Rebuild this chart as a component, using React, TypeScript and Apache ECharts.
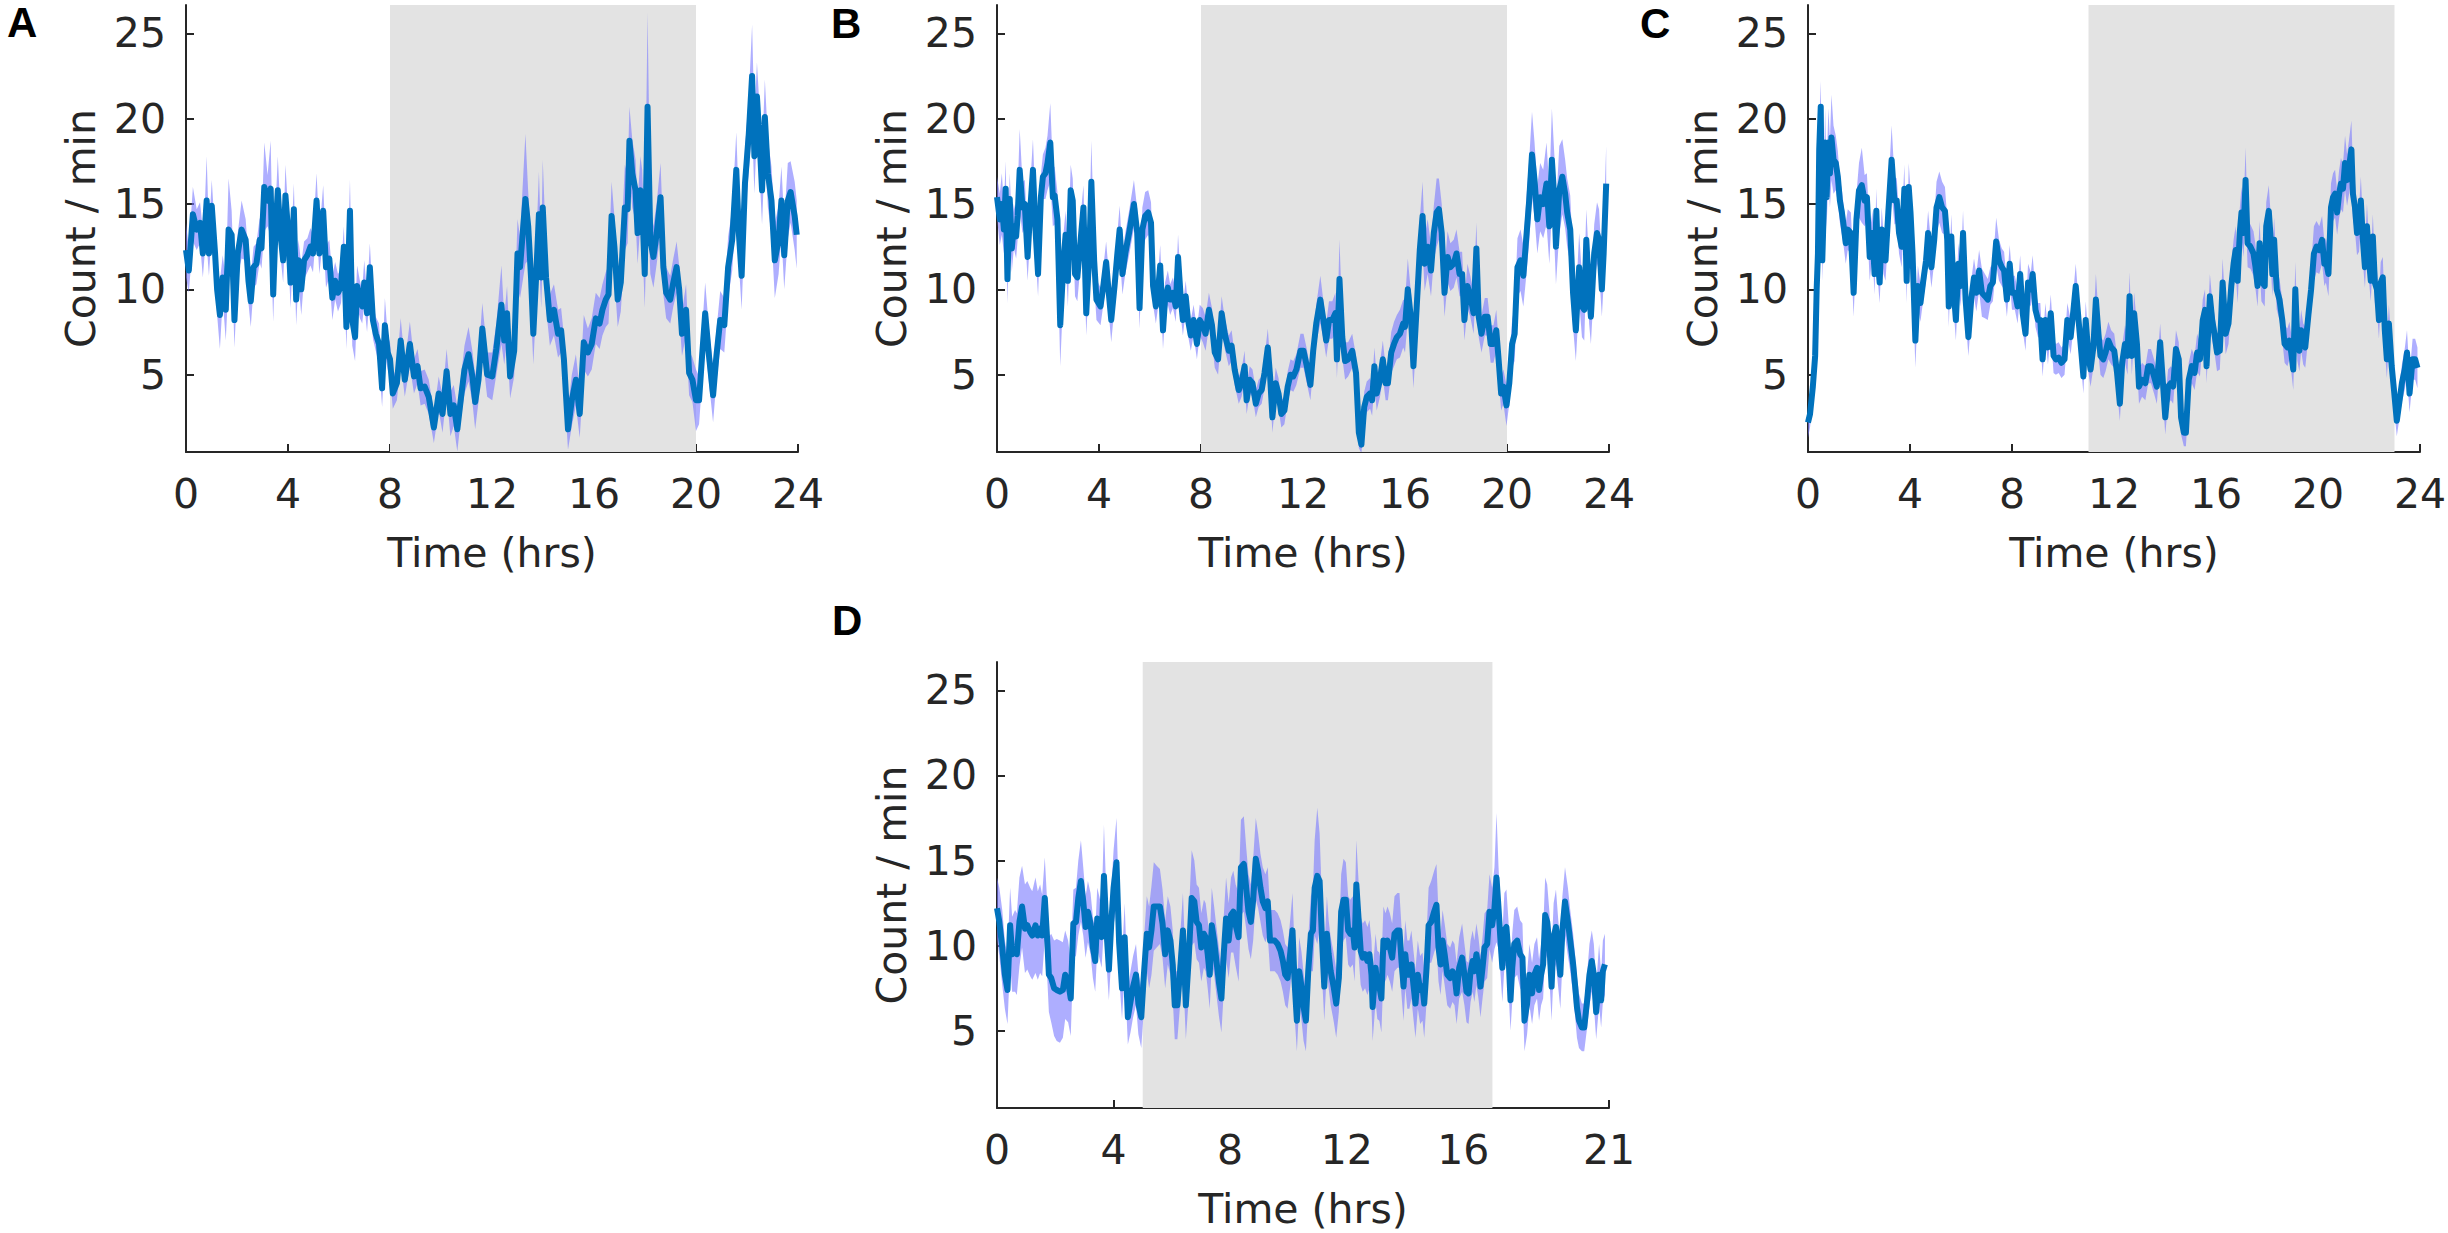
import React, { useEffect, useRef } from "react";
import * as echarts from "echarts";

// ---- axis ticks / ranges ----
const Y_TICKS = [5, 10, 15, 20, 25];
const X_TICKS_24 = [0, 4, 8, 12, 16, 20, 24];
const X_TICKS_21 = [0, 4, 8, 12, 16, 21];
const Y_MIN = 0.47;
const Y_MAX = 26.66;

// dark (grey) periods in hours
const DARK_A = [8, 20];
const DARK_B = [8, 20];
const DARK_C = [11, 23];
const DARK_D = [5, 17];

// ---- data: [time (hrs), mean count/min, SEM] ----
const panelA: number[][] = [
  [0.00,12.3,1.6],[0.11,11.1,1.3],[0.27,14.4,1.6],[0.42,13.5,1.2],[0.55,13.9,1.2],[0.66,12.1,1.4],[0.73,13.3,1.3],[0.81,15.2,2.6],[0.90,12.1,1.3],[1.01,14.9,1.5],
  [1.14,12.1,1.2],[1.22,10.0,1.5],[1.33,8.5,2.0],[1.44,10.7,1.3],[1.56,8.8,1.8],[1.67,13.5,3.0],[1.79,13.2,1.4],[1.90,8.2,1.6],[2.03,12.1,1.2],[2.18,13.5,1.7],
  [2.34,12.9,1.2],[2.45,10.5,1.3],[2.54,9.3,1.5],[2.65,11.3,1.2],[2.76,11.5,1.2],[2.89,12.9,1.3],[2.96,12.4,1.2],[3.07,16.0,2.6],[3.20,15.2,1.5],[3.32,15.9,2.8],
  [3.42,9.7,1.6],[3.51,13.5,1.2],[3.60,15.8,2.0],[3.70,13.3,1.3],[3.81,11.7,1.3],[3.90,15.5,1.8],[4.01,13.3,1.2],[4.10,10.4,1.5],[4.23,14.7,1.5],[4.32,9.4,1.5],
  [4.41,11.7,1.2],[4.52,10.0,1.5],[4.63,11.7,1.1],[4.76,12.0,1.0],[4.88,12.5,1.1],[4.98,12.1,1.1],[5.12,15.2,1.6],[5.23,12.1,1.2],[5.38,14.6,1.5],[5.49,11.3,1.2],
  [5.62,11.8,1.1],[5.74,9.5,1.3],[5.85,10.5,1.1],[5.96,9.8,1.1],[6.08,10.2,1.0],[6.19,12.5,1.2],[6.29,7.8,1.3],[6.43,14.6,1.8],[6.52,8.2,1.5],[6.63,7.2,1.4],
  [6.71,10.2,1.2],[6.82,9.4,1.1],[6.91,9.0,1.0],[6.99,10.4,1.3],[7.10,8.6,1.1],[7.21,11.3,1.4],[7.33,8.2,1.1],[7.44,7.4,1.0],[7.57,6.8,1.2],[7.69,4.2,1.1],
  [7.80,7.9,1.6],[7.91,6.3,1.0],[8.00,5.9,1.0],[8.11,3.9,0.9],[8.27,4.5,1.0],[8.42,7.0,1.3],[8.58,4.7,1.0],[8.78,6.8,1.3],[8.94,4.9,1.0],[9.08,5.5,1.0],
  [9.20,4.2,1.0],[9.36,4.3,1.0],[9.52,3.7,1.0],[9.72,1.9,0.9],[9.91,3.9,1.0],[10.06,2.7,1.1],[10.22,5.2,1.3],[10.37,2.7,1.3],[10.50,3.2,1.2],[10.64,1.8,1.3],
  [10.78,3.6,1.2],[10.92,5.3,1.4],[11.08,6.2,1.6],[11.23,4.9,1.5],[11.34,3.4,1.6],[11.47,4.7,1.3],[11.62,7.7,1.5],[11.81,5.0,1.3],[12.01,4.9,1.4],[12.17,6.5,1.5],
  [12.37,9.1,2.3],[12.48,7.0,1.4],[12.59,8.6,1.6],[12.71,4.9,1.3],[12.87,6.4,1.5],[13.00,12.1,2.0],[13.10,11.3,1.8],[13.31,15.3,3.8],[13.42,13.7,2.0],[13.53,10.7,2.0],
  [13.62,7.4,1.8],[13.73,10.7,1.8],[13.84,14.4,2.5],[13.93,10.7,1.8],[13.99,14.8,2.8],[14.12,10.7,1.8],[14.27,8.2,1.5],[14.43,8.8,1.5],[14.59,7.4,1.4],[14.71,7.6,1.3],
  [14.82,5.9,1.4],[14.98,1.8,1.2],[15.13,3.5,1.5],[15.29,4.7,1.5],[15.44,2.7,1.4],[15.60,6.9,1.6],[15.76,6.3,1.4],[15.91,6.8,1.5],[16.07,8.3,1.5],[16.22,8.0,1.5],
  [16.33,8.8,1.5],[16.46,9.4,1.6],[16.57,9.7,1.7],[16.69,14.3,2.0],[16.80,12.5,1.8],[16.93,9.4,1.6],[17.05,10.4,1.7],[17.21,14.8,2.5],[17.32,14.7,2.0],[17.39,18.7,2.0],
  [17.50,16.8,2.0],[17.63,15.8,1.8],[17.71,13.3,1.8],[17.82,15.8,2.0],[17.89,15.0,2.0],[17.99,10.9,2.0],[18.10,20.7,5.5],[18.21,12.9,2.0],[18.33,11.9,1.8],[18.46,13.3,1.8],
  [18.61,15.4,2.0],[18.72,11.3,1.6],[18.83,9.8,1.5],[18.99,9.4,1.4],[19.11,10.4,1.4],[19.24,11.3,1.5],[19.34,10.0,1.4],[19.45,7.4,1.3],[19.61,8.8,1.5],[19.73,5.1,1.3],
  [19.86,4.7,1.3],[20.00,3.5,1.8],[20.12,3.5,1.4],[20.23,5.9,1.5],[20.36,8.6,1.8],[20.51,6.1,1.6],[20.67,3.8,1.6],[20.80,6.1,1.5],[20.95,8.2,1.7],[21.11,7.9,1.6],
  [21.26,11.3,1.8],[21.42,12.9,1.8],[21.58,17.0,2.2],[21.68,13.3,1.8],[21.79,10.8,2.0],[21.92,16.2,2.0],[22.07,19.1,2.2],[22.20,22.5,3.0],[22.29,17.8,2.2],[22.39,21.3,2.0],
  [22.51,18.2,2.0],[22.59,15.8,2.0],[22.70,20.1,2.2],[22.82,16.8,2.0],[22.96,15.2,2.0],[23.09,11.7,2.2],[23.24,12.9,2.0],[23.35,15.2,2.0],[23.46,12.0,2.0],[23.60,15.2,2.2],
  [23.71,15.7,1.8],[23.87,14.3,2.0],[23.95,13.2,2.0],
];

const panelB: number[][] = [
  [0.00,15.4,1.2],[0.11,14.1,1.5],[0.19,15.0,1.8],[0.27,13.5,1.4],[0.34,15.9,1.6],[0.41,10.6,1.4],[0.50,15.3,1.5],[0.58,12.4,1.4],[0.66,13.7,1.3],[0.75,13.1,1.3],
  [0.81,14.3,1.4],[0.89,17.0,2.4],[1.00,14.8,1.5],[1.09,15.0,1.4],[1.20,11.9,1.4],[1.31,14.8,1.5],[1.41,17.0,1.8],[1.51,13.5,1.4],[1.61,10.9,1.3],[1.72,15.4,1.3],
  [1.80,16.6,1.3],[1.90,16.8,1.5],[1.98,17.4,1.6],[2.09,18.6,2.3],[2.19,15.4,1.7],[2.26,15.5,1.7],[2.37,14.1,1.6],[2.48,7.9,2.4],[2.61,11.7,1.6],[2.69,13.2,1.4],
  [2.78,10.5,1.5],[2.89,15.8,1.5],[2.97,15.2,1.3],[3.06,10.9,1.3],[3.15,10.7,1.4],[3.28,12.9,1.4],[3.39,14.8,1.3],[3.50,8.6,1.3],[3.62,12.1,1.2],[3.70,16.3,2.4],
  [3.81,11.7,1.3],[3.90,9.4,1.2],[4.06,9.0,1.1],[4.17,10.2,1.1],[4.28,11.6,1.2],[4.37,10.0,1.2],[4.48,8.2,1.3],[4.61,10.2,1.2],[4.72,12.1,1.2],[4.81,13.5,1.4],
  [4.92,10.9,1.2],[5.03,12.1,1.2],[5.18,13.3,1.3],[5.37,15.0,1.4],[5.50,13.3,1.4],[5.59,8.9,1.2],[5.70,13.5,1.3],[5.81,14.3,1.4],[5.93,14.5,1.3],[6.04,13.9,1.2],
  [6.12,10.2,1.1],[6.23,9.0,1.0],[6.32,10.0,1.0],[6.40,11.4,1.2],[6.51,7.6,1.1],[6.59,9.4,1.0],[6.70,10.1,1.0],[6.79,9.4,0.9],[6.90,9.8,0.9],[7.01,9.0,0.9],
  [7.10,11.9,1.3],[7.21,9.4,1.0],[7.29,8.2,0.9],[7.40,9.6,0.9],[7.49,8.2,0.9],[7.60,7.3,0.9],[7.71,8.2,0.9],[7.84,6.8,0.9],[7.95,8.2,0.9],[8.07,7.9,1.0],
  [8.18,7.4,1.0],[8.31,8.8,1.0],[8.43,7.9,1.0],[8.54,6.3,0.9],[8.67,5.9,0.9],[8.81,8.6,1.0],[8.93,7.4,0.9],[9.09,6.4,0.9],[9.20,6.7,0.9],[9.32,5.3,0.9],
  [9.48,4.1,0.8],[9.59,4.5,0.8],[9.71,5.5,0.9],[9.79,3.5,0.8],[9.91,4.7,0.8],[10.02,4.5,0.8],[10.15,3.3,0.8],[10.26,3.9,0.8],[10.38,4.1,0.8],[10.49,5.1,0.9],
  [10.62,6.6,1.1],[10.71,4.9,0.9],[10.80,2.5,0.9],[10.93,4.5,0.9],[11.04,3.9,0.9],[11.15,2.7,0.8],[11.27,2.9,0.8],[11.40,4.3,0.9],[11.51,5.0,0.9],[11.62,4.9,0.9],
  [11.74,5.3,0.9],[11.90,6.4,1.0],[12.02,6.4,1.0],[12.15,5.5,1.0],[12.29,4.4,0.9],[12.40,6.4,1.0],[12.52,8.0,1.1],[12.68,9.4,1.4],[12.80,8.2,1.1],[12.91,7.0,1.0],
  [13.02,8.2,1.1],[13.15,8.2,1.1],[13.27,8.6,1.2],[13.33,5.9,1.1],[13.43,10.6,2.3],[13.54,7.2,1.2],[13.65,5.8,1.1],[13.77,5.9,1.0],[13.93,6.4,1.0],[14.08,5.1,1.0],
  [14.19,1.6,0.9],[14.29,0.9,0.5],[14.40,3.1,0.9],[14.50,3.7,0.9],[14.63,3.9,0.9],[14.71,3.5,0.9],[14.80,5.5,1.1],[14.89,3.9,1.0],[15.02,4.7,1.0],[15.13,5.9,1.1],
  [15.24,4.5,1.0],[15.33,4.5,1.0],[15.46,6.3,1.2],[15.57,6.8,1.3],[15.68,7.2,1.3],[15.80,7.4,1.4],[15.93,8.0,1.4],[16.00,7.8,1.5],[16.11,10.0,1.8],[16.24,8.2,1.5],
  [16.33,5.5,1.3],[16.46,9.0,1.5],[16.58,12.3,1.8],[16.69,14.3,2.0],[16.77,11.5,1.6],[16.89,12.5,1.6],[17.02,11.1,1.5],[17.13,13.3,1.6],[17.24,14.5,2.0],[17.33,14.7,1.8],
  [17.44,13.3,1.7],[17.55,9.8,1.4],[17.67,11.9,1.5],[17.78,11.3,1.4],[17.91,11.5,1.4],[18.02,12.1,1.4],[18.14,10.9,1.3],[18.24,10.9,1.3],[18.33,8.2,1.2],[18.45,10.2,1.3],
  [18.56,9.6,1.2],[18.69,8.6,1.2],[18.80,12.4,1.5],[18.89,8.4,1.2],[19.00,7.4,1.1],[19.13,8.4,1.1],[19.24,8.4,1.1],[19.36,6.8,1.1],[19.47,6.8,1.1],[19.58,7.6,1.2],
  [19.67,5.9,1.1],[19.77,3.9,1.0],[19.86,4.3,1.0],[19.98,3.2,1.2],[20.09,4.5,1.2],[20.20,6.8,1.4],[20.30,7.4,1.6],[20.41,11.3,1.7],[20.53,11.7,1.8],[20.64,10.8,1.8],
  [20.75,12.9,2.2],[20.87,15.2,2.4],[20.98,17.9,2.5],[21.08,16.4,2.2],[21.19,14.1,2.0],[21.30,15.4,2.0],[21.42,15.0,2.0],[21.55,16.2,2.4],[21.66,13.7,2.2],[21.76,17.6,3.0],
  [21.86,15.2,2.6],[21.92,12.5,2.2],[22.05,15.8,2.6],[22.17,16.6,2.2],[22.28,15.6,2.0],[22.36,14.5,2.0],[22.48,13.5,2.0],[22.59,9.8,2.0],[22.70,7.6,1.8],[22.83,11.3,2.0],
  [22.94,9.0,1.8],[23.03,8.8,1.8],[23.11,12.9,1.8],[23.22,9.8,1.8],[23.29,8.4,1.6],[23.42,12.1,1.7],[23.53,13.3,1.8],[23.61,12.9,1.8],[23.72,10.0,1.6],[23.79,12.1,1.8],
  [23.89,16.2,2.2],
];

const panelC: number[][] = [
  [0.00,2.2,0.9],[0.08,2.7,0.8],[0.19,4.3,0.8],[0.28,6.1,0.8],[0.34,10.0,1.0],[0.39,12.1,1.2],[0.44,18.2,1.5],[0.50,20.7,1.5],[0.56,11.7,1.2],[0.62,14.8,1.5],
  [0.67,18.6,2.0],[0.73,15.4,1.8],[0.80,18.6,2.0],[0.86,16.8,2.0],[0.92,18.9,2.5],[1.00,17.6,2.0],[1.09,17.4,1.6],[1.17,16.6,1.5],[1.25,15.2,1.3],[1.33,14.5,1.3],
  [1.40,13.7,1.2],[1.48,12.7,1.2],[1.56,13.5,1.2],[1.68,13.3,1.2],[1.79,9.8,1.4],[1.90,14.1,1.5],[2.00,15.8,1.6],[2.11,16.1,2.2],[2.22,15.2,1.5],[2.31,15.4,1.4],
  [2.42,11.9,1.4],[2.53,13.3,1.3],[2.61,10.9,1.2],[2.68,14.6,1.3],[2.75,11.5,1.2],[2.81,10.4,1.2],[2.89,13.5,1.3],[2.96,12.1,1.2],[3.04,11.7,1.2],[3.15,14.5,1.3],
  [3.28,17.6,2.0],[3.39,15.2,1.4],[3.48,15.2,1.3],[3.57,13.3,1.2],[3.67,12.5,1.2],[3.78,15.9,1.4],[3.87,10.5,1.3],[3.95,16.0,1.4],[4.02,14.5,1.3],[4.10,12.1,1.3],
  [4.21,7.0,1.6],[4.31,10.2,1.2],[4.41,9.2,1.1],[4.52,10.5,1.1],[4.63,11.7,1.2],[4.71,13.3,1.3],[4.84,11.3,1.2],[4.95,12.9,1.3],[5.04,14.8,1.5],[5.15,15.4,1.5],
  [5.26,14.8,1.5],[5.37,14.6,1.4],[5.46,12.9,1.3],[5.52,9.0,1.2],[5.62,13.1,1.3],[5.71,10.0,1.2],[5.80,8.2,1.2],[5.90,11.5,1.2],[5.99,10.2,1.2],[6.08,13.3,1.3],
  [6.18,9.4,1.1],[6.29,7.2,1.1],[6.40,9.4,1.1],[6.51,10.7,1.1],[6.60,9.8,1.1],[6.71,11.1,1.2],[6.82,9.8,1.4],[6.94,9.6,1.3],[7.05,9.4,1.2],[7.15,10.2,1.1],
  [7.25,10.4,1.1],[7.38,12.8,1.4],[7.49,11.7,1.2],[7.60,11.3,1.1],[7.69,11.1,1.1],[7.80,9.4,1.0],[7.91,11.5,1.1],[8.00,9.8,1.0],[8.11,9.8,1.0],[8.22,9.0,1.0],
  [8.32,10.9,1.1],[8.42,8.6,1.0],[8.53,7.4,1.0],[8.63,10.4,1.1],[8.74,10.0,1.0],[8.81,10.9,1.1],[8.92,8.8,1.0],[9.02,8.2,1.0],[9.11,8.2,1.0],[9.20,5.9,1.0],
  [9.31,8.2,1.0],[9.41,6.6,1.0],[9.52,8.6,1.1],[9.63,6.1,1.0],[9.72,5.9,0.9],[9.83,6.0,0.9],[9.94,5.7,0.9],[10.06,5.9,0.9],[10.17,8.2,1.0],[10.30,7.2,1.0],
  [10.41,8.8,1.1],[10.50,10.2,1.3],[10.61,8.2,1.1],[10.72,6.3,1.0],[10.80,4.9,1.0],[10.89,8.2,1.1],[11.00,6.1,1.0],[11.08,5.3,1.0],[11.19,6.6,1.2],[11.29,9.4,1.5],
  [11.39,7.4,1.2],[11.47,6.1,1.1],[11.58,5.9,1.1],[11.67,6.3,1.1],[11.78,7.0,1.1],[11.89,6.6,1.0],[12.01,6.4,1.0],[12.12,5.1,1.0],[12.23,3.3,1.0],[12.32,5.7,1.0],
  [12.43,6.8,1.1],[12.53,6.1,1.1],[12.61,9.6,1.4],[12.70,6.1,1.1],[12.79,8.6,1.2],[12.90,6.8,1.1],[12.98,4.3,1.0],[13.10,4.7,1.0],[13.23,4.5,1.0],[13.34,5.5,1.0],
  [13.45,5.5,1.0],[13.57,4.9,1.0],[13.68,4.3,1.0],[13.81,6.9,1.1],[13.92,4.5,1.0],[14.01,2.5,1.0],[14.12,4.3,1.0],[14.23,4.5,1.0],[14.32,4.3,1.0],[14.43,6.5,1.1],
  [14.54,5.9,1.0],[14.63,2.5,1.0],[14.74,1.6,0.8],[14.82,1.6,0.8],[14.93,4.7,1.0],[15.05,5.5,1.0],[15.16,5.1,1.0],[15.26,6.3,1.1],[15.37,5.9,1.0],[15.48,8.2,1.2],
  [15.57,8.8,1.2],[15.63,5.5,1.0],[15.76,9.6,1.3],[15.85,8.2,1.2],[15.94,7.4,1.1],[16.04,6.3,1.1],[16.15,6.4,1.1],[16.26,10.4,1.4],[16.38,7.4,1.2],[16.49,8.0,1.2],
  [16.60,10.2,1.3],[16.69,11.5,1.4],[16.77,12.3,1.4],[16.85,10.5,1.3],[16.93,13.3,1.4],[17.00,14.5,1.5],[17.08,13.3,1.4],[17.16,16.4,1.9],[17.24,12.7,1.4],[17.35,12.5,1.3],
  [17.47,12.1,1.3],[17.55,11.3,1.3],[17.63,10.2,1.2],[17.71,12.7,1.3],[17.78,10.5,1.2],[17.91,10.2,1.2],[17.97,13.7,1.4],[18.07,14.6,1.5],[18.13,13.3,1.4],[18.21,10.9,1.3],
  [18.28,12.9,1.3],[18.38,10.0,1.2],[18.49,9.4,1.2],[18.60,8.2,1.2],[18.69,6.8,1.1],[18.80,6.6,1.1],[18.88,7.0,1.1],[18.95,6.3,1.1],[19.03,5.3,1.2],[19.11,10.0,1.6],
  [19.19,7.0,1.2],[19.27,6.4,1.2],[19.34,7.6,1.2],[19.42,6.8,1.2],[19.50,6.6,1.2],[19.63,8.6,1.3],[19.73,10.0,1.4],[19.84,12.1,1.6],[19.94,12.5,1.5],[20.05,12.3,1.4],
  [20.16,12.9,1.4],[20.25,11.5,1.3],[20.31,11.7,1.3],[20.41,10.9,1.3],[20.51,14.8,1.4],[20.59,15.4,1.4],[20.67,15.6,1.4],[20.75,14.5,1.3],[20.83,15.6,1.4],[20.90,16.2,1.5],
  [20.98,15.9,1.4],[21.06,17.4,1.6],[21.14,16.4,1.5],[21.22,17.2,1.6],[21.31,18.2,1.7],[21.37,15.6,1.5],[21.45,14.8,1.4],[21.53,13.3,1.3],[21.61,13.5,1.3],[21.68,15.2,1.4],
  [21.76,12.9,1.3],[21.84,11.3,1.2],[21.92,13.7,1.3],[22.00,11.7,1.2],[22.07,10.5,1.2],[22.15,13.1,1.3],[22.23,10.4,1.2],[22.31,10.0,1.2],[22.39,8.2,1.1],[22.46,10.4,1.2],
  [22.54,10.7,1.2],[22.62,7.6,1.1],[22.70,5.9,1.1],[22.78,8.0,1.1],[22.89,5.5,1.0],[22.98,4.1,1.0],[23.09,2.3,0.9],[23.20,3.5,1.0],[23.29,4.5,1.1],[23.40,5.3,1.2],
  [23.49,6.3,1.3],[23.59,3.9,1.1],[23.71,5.9,1.2],[23.81,5.9,1.2],[23.90,5.4,1.2],
];

const panelD: number[][] = [
  [0.00,12.2,1.8],[0.08,11.4,2.0],[0.18,9.9,2.2],[0.27,8.3,2.0],[0.36,7.4,2.0],[0.45,11.2,2.2],[0.52,9.5,2.2],[0.62,9.7,2.4],[0.68,9.5,2.4],[0.77,11.4,2.6],
  [0.86,12.3,2.4],[0.96,11.0,2.6],[1.04,11.2,2.6],[1.14,10.8,2.6],[1.21,10.6,2.6],[1.32,11.2,2.8],[1.40,10.6,2.6],[1.48,11.0,2.6],[1.55,10.6,2.4],[1.64,12.8,2.4],
  [1.73,10.1,2.2],[1.78,8.3,2.2],[1.86,8.1,2.6],[1.96,7.5,2.8],[2.05,7.4,3.0],[2.16,7.3,3.0],[2.26,7.4,2.8],[2.34,8.3,2.6],[2.44,7.9,2.4],[2.53,6.9,2.2],
  [2.62,11.3,2.0],[2.71,11.4,2.0],[2.79,12.8,2.2],[2.88,13.8,2.4],[2.96,12.6,2.0],[3.04,11.1,1.8],[3.12,12.0,1.8],[3.21,11.3,1.8],[3.29,9.9,1.8],[3.37,9.1,1.8],
  [3.44,11.6,1.8],[3.51,11.1,1.8],[3.59,10.5,1.8],[3.67,14.1,3.0],[3.75,11.1,2.0],[3.84,8.6,1.8],[3.92,11.3,2.0],[4.00,13.4,2.2],[4.10,14.9,2.6],[4.19,10.2,2.0],
  [4.29,7.5,1.8],[4.38,10.5,2.0],[4.49,5.8,1.6],[4.58,6.7,1.8],[4.67,7.6,1.8],[4.77,8.3,1.8],[4.85,6.6,1.8],[4.95,5.8,1.8],[5.04,8.3,2.0],[5.14,10.7,2.2],
  [5.22,9.9,2.4],[5.30,10.9,2.6],[5.38,12.3,2.6],[5.48,12.3,2.4],[5.59,12.3,2.2],[5.68,11.3,2.0],[5.77,9.5,2.0],[5.86,10.9,2.0],[5.95,10.3,2.0],[6.03,8.9,2.0],
  [6.10,6.5,2.0],[6.19,6.5,2.0],[6.29,8.7,2.0],[6.38,10.9,2.2],[6.48,6.5,2.0],[6.58,9.3,2.4],[6.68,12.8,2.8],[6.77,12.6,2.4],[6.85,11.4,2.2],[6.93,11.2,2.2],
  [7.01,9.9,2.0],[7.10,10.7,2.0],[7.16,10.5,2.0],[7.23,9.5,2.0],[7.30,8.3,2.0],[7.37,11.2,2.2],[7.45,10.3,2.0],[7.53,9.1,2.0],[7.62,7.8,2.0],[7.70,6.9,2.0],
  [7.78,9.5,2.2],[7.86,11.6,2.4],[7.95,10.3,2.2],[8.03,11.8,2.2],[8.11,12.0,2.4],[8.19,11.2,2.4],[8.29,10.5,2.6],[8.37,14.6,2.8],[8.47,14.8,2.8],[8.55,13.4,2.4],
  [8.63,12.0,2.2],[8.71,11.4,2.2],[8.79,12.7,2.4],[8.88,15.1,2.4],[8.96,14.4,2.2],[9.04,13.4,2.0],[9.12,12.6,2.0],[9.21,12.2,2.0],[9.29,12.6,2.0],[9.37,10.3,1.8],
  [9.45,10.3,1.8],[9.53,10.3,1.8],[9.63,10.1,1.8],[9.73,9.7,1.8],[9.81,9.1,1.8],[9.89,8.3,1.8],[9.97,8.1,1.8],[10.07,9.7,2.0],[10.14,10.9,2.2],[10.21,7.9,2.0],
  [10.29,5.6,1.8],[10.37,8.5,2.0],[10.45,7.6,2.0],[10.52,6.4,2.0],[10.60,5.6,1.8],[10.68,8.5,2.0],[10.77,10.7,2.2],[10.84,10.9,2.4],[10.90,13.4,2.8],[10.99,14.1,4.0],
  [11.07,13.8,2.8],[11.15,10.5,2.2],[11.23,7.6,2.0],[11.32,10.7,2.2],[11.38,9.5,2.0],[11.45,8.5,2.0],[11.55,7.6,2.0],[11.64,6.6,2.0],[11.73,8.1,2.0],[11.81,12.0,2.2],
  [11.89,12.7,2.4],[11.97,12.7,2.2],[12.05,10.9,2.0],[12.12,10.7,2.0],[12.21,10.9,2.0],[12.27,9.9,2.0],[12.33,13.6,2.6],[12.41,11.5,2.2],[12.48,9.7,2.0],[12.55,9.3,2.0],
  [12.63,9.5,2.0],[12.71,9.1,2.0],[12.78,9.5,2.0],[12.85,8.3,2.0],[12.89,6.4,2.0],[12.99,8.7,2.0],[13.05,7.7,2.0],[13.12,7.6,2.0],[13.19,6.9,2.0],[13.26,10.3,2.0],
  [13.33,9.9,2.0],[13.40,10.3,2.0],[13.48,9.9,2.0],[13.56,9.3,2.0],[13.64,10.7,2.2],[13.74,10.9,2.2],[13.81,10.9,2.2],[13.88,9.1,2.0],[13.95,7.6,2.0],[14.01,9.5,2.0],
  [14.08,8.3,2.0],[14.15,8.3,2.0],[14.22,8.9,2.0],[14.29,7.7,2.0],[14.36,6.6,2.0],[14.44,8.3,2.0],[14.52,7.4,2.0],[14.60,7.6,2.0],[14.66,6.6,2.0],[14.74,8.7,2.0],
  [14.81,11.2,2.2],[14.90,11.4,2.4],[15.00,12.0,2.4],[15.08,12.4,2.4],[15.15,9.9,2.0],[15.22,8.9,1.8],[15.29,10.3,1.8],[15.36,9.5,1.8],[15.45,8.3,1.8],[15.55,8.1,1.8],
  [15.63,8.5,1.8],[15.70,8.3,1.8],[15.77,7.2,1.8],[15.86,8.7,1.8],[15.96,9.3,2.0],[16.04,8.3,1.8],[16.11,7.3,1.8],[16.18,7.2,1.8],[16.25,8.5,1.8],[16.32,9.1,1.8],
  [16.38,8.5,1.8],[16.45,9.5,1.8],[16.52,8.7,1.8],[16.59,7.6,1.8],[16.66,8.7,1.8],[16.73,9.9,2.0],[16.82,10.1,2.0],[16.90,12.0,2.2],[16.99,11.2,2.2],[17.07,12.2,2.4],
  [17.14,14.0,3.8],[17.21,12.2,2.4],[17.27,10.5,2.0],[17.34,8.7,2.0],[17.41,10.9,2.2],[17.48,11.1,2.2],[17.55,9.5,2.0],[17.62,6.8,1.8],[17.68,8.7,2.0],[17.75,10.1,2.0],
  [17.85,10.3,2.0],[17.95,9.5,2.0],[18.03,9.3,2.0],[18.10,5.6,1.8],[18.19,6.6,1.8],[18.27,8.3,1.8],[18.36,7.2,1.8],[18.44,8.3,1.8],[18.53,8.7,1.8],[18.60,7.4,1.8],
  [18.67,8.3,1.8],[18.74,8.9,2.0],[18.81,11.8,2.2],[18.88,11.4,2.2],[18.96,9.9,2.0],[19.03,7.6,2.0],[19.10,10.5,2.0],[19.18,11.1,2.2],[19.26,9.5,2.0],[19.33,8.3,2.0],
  [19.40,10.9,2.0],[19.49,12.6,2.0],[19.59,11.4,2.0],[19.67,10.3,1.8],[19.77,8.9,1.8],[19.84,7.6,1.8],[19.90,6.4,1.8],[19.97,5.6,1.6],[20.07,5.2,1.4],[20.15,5.2,1.4],
  [20.25,6.8,1.6],[20.33,8.3,1.8],[20.41,9.1,1.8],[20.48,8.3,1.8],[20.56,6.1,1.6],[20.66,8.3,1.8],[20.73,6.8,1.6],[20.79,8.5,1.8],[20.86,8.9,1.8],
];

// ---- styling ----
const FONT = "DejaVu Sans";
const AX = "#262626";
const LINE = "#0072BD";
const BAND = "rgba(120,120,255,0.6)";
const SHADE = "#e3e3e3";

const panels = [
  { id: "A", data: panelA, xMax: 24, xTicks: X_TICKS_24, dark: DARK_A, grid: { left: 186, top: 5, width: 612, height: 447 }, lab: [7, 1] },
  { id: "B", data: panelB, xMax: 24, xTicks: X_TICKS_24, dark: DARK_B, grid: { left: 997, top: 5, width: 612, height: 447 }, lab: [831, 2] },
  { id: "C", data: panelC, xMax: 24, xTicks: X_TICKS_24, dark: DARK_C, grid: { left: 1808, top: 5, width: 612, height: 447 }, lab: [1640, 2] },
  { id: "D", data: panelD, xMax: 21, xTicks: X_TICKS_21, dark: DARK_D, grid: { left: 997, top: 662, width: 612, height: 446 }, lab: [832, 599] },
];

export default function App() {
  const ref = useRef<HTMLDivElement>(null);
  useEffect(() => {
    if (!ref.current) return;
    const chart = echarts.init(ref.current, null, { renderer: "svg" });
    const textStyle = { fontSize: 41, fontFamily: FONT, color: AX };
    const option: any = {
      animation: false,
      backgroundColor: "#fff",
      grid: panels.map((p) => ({ ...p.grid, containLabel: false, outerBoundsMode: "none" })),
      xAxis: panels.map((p, i) => ({
        type: "value",
        gridIndex: i,
        min: 0,
        max: p.xMax,
        axisLine: { show: true, onZero: false, lineStyle: { color: AX, width: 2 } },
        axisTick: { show: true, inside: true, length: 8, lineStyle: { color: AX, width: 2 }, customValues: p.xTicks },
        axisLabel: { ...textStyle, margin: 21, customValues: p.xTicks },
        splitLine: { show: false },
        name: "Time (hrs)",
        nameLocation: "middle",
        nameGap: 80,
        nameTextStyle: textStyle,
      })),
      yAxis: panels.map((p, i) => ({
        type: "value",
        gridIndex: i,
        min: Y_MIN,
        max: Y_MAX,
        axisLine: { show: true, onZero: false, lineStyle: { color: AX, width: 2 } },
        axisTick: { show: true, inside: true, length: 8, lineStyle: { color: AX, width: 2 }, customValues: Y_TICKS },
        axisLabel: { ...textStyle, margin: 20, customValues: Y_TICKS },
        splitLine: { show: false },
        name: "Count / min",
        nameLocation: "middle",
        nameGap: 85,
        nameTextStyle: textStyle,
      })),
      series: panels.flatMap((p, i) => [
        {
          type: "custom",
          xAxisIndex: i,
          yAxisIndex: i,
          data: [p.dark],
          encode: { x: [0, 1] },
          silent: true,
          z: 1,
          renderItem: (_params: any, api: any) => {
            const a = api.coord([api.value(0), Y_MAX]);
            const b = api.coord([api.value(1), Y_MIN]);
            return {
              type: "rect",
              shape: { x: a[0], y: a[1], width: b[0] - a[0], height: b[1] - a[1] },
              style: { fill: SHADE },
            };
          },
        },
        {
          type: "custom",
          xAxisIndex: i,
          yAxisIndex: i,
          data: p.data,
          encode: { x: 0, y: 1 },
          silent: true,
          clip: true,
          z: 2,
          renderItem: (params: any, api: any) => {
            if (params.dataIndex !== 0) return null;
            const up = p.data.map((d) => api.coord([d[0], d[1] + d[2]]));
            const lo = p.data
              .slice()
              .reverse()
              .map((d) => api.coord([d[0], d[1] - d[2]]));
            return {
              type: "polygon",
              shape: { points: up.concat(lo) },
              style: { fill: BAND },
            };
          },
        },
        {
          type: "line",
          xAxisIndex: i,
          yAxisIndex: i,
          data: p.data.map((d) => [d[0], d[1]]),
          symbol: "none",
          silent: true,
          lineStyle: { color: LINE, width: 6, join: "round" },
          z: 3,
        },
      ]),
      graphic: panels.map((p) => ({
        type: "text",
        x: p.lab[0],
        y: p.lab[1],
        style: {
          text: p.id,
          fontFamily: "Liberation Sans",
          fontWeight: "bold",
          fontSize: 42,
          fill: "#000",
          verticalAlign: "top",
        },
      })),
    };
    chart.setOption(option);
    return () => chart.dispose();
  }, []);
  return (
    <div
      ref={ref}
      style={{ position: "absolute", left: 0, top: 0, width: "2448px", height: "1233px", background: "#fff" }}
    />
  );
}
